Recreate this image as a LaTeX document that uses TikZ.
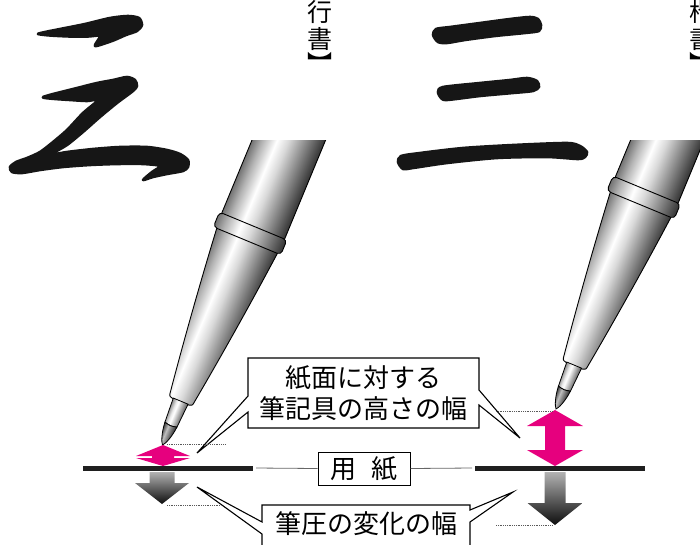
\documentclass[tikz,border=0pt]{standalone}
\usepackage{fontspec}
\newfontfamily\jpfont{Noto Sans CJK JP}
\usetikzlibrary{calc}

\definecolor{markpink}{RGB}{230,0,126}
\definecolor{inkblack}{RGB}{22,22,22}

% metallic gradients across the width of the pen parts
\pgfdeclarehorizontalshading{penmetal}{100bp}{color(0bp)=(black!55); color(25bp)=(black!55); color(32bp)=(black!30); color(42bp)=(white); color(50bp)=(black!15); color(75bp)=(black!80); color(100bp)=(black!80)}
\pgfdeclarehorizontalshading{sleevemetal}{100bp}{color(0bp)=(black!45); color(25bp)=(black!45); color(38bp)=(black!8); color(45bp)=(white); color(75bp)=(black!65); color(100bp)=(black!65)}
\pgfdeclarehorizontalshading{tipmetal}{100bp}{color(0bp)=(black!75); color(25bp)=(black!75); color(42bp)=(black!25); color(75bp)=(black!85); color(100bp)=(black!85)}

\tikzset{
  brush/.style={fill=inkblack, draw=inkblack, line width=2.6pt, line join=round},
  penline/.style={draw=black, line width=0.9pt},
  callout/.style={draw=black, line width=1.1pt, fill=white, line join=miter},
  labeltext/.style={font=\jpfont\fontsize{26}{31}\selectfont, inner sep=0pt},
  vlabel/.style={font=\jpfont\fontsize{25}{25}\selectfont, inner sep=0pt},
  paperline/.style={line width=5pt, draw=black!88},
  leader/.style={draw=black!60, line width=0.8pt},
  dotline/.style={draw=black!65, line width=0.6pt, dash pattern=on 0.8pt off 1pt},
  pinkarrow/.style={fill=markpink},
  pressarrow/.style={top color=black!30, bottom color=black!95},
}

% a pen in its own frame: tip at the origin, axis along +y
\newcommand\penshape{%
  \shade[shading=penmetal, penline] (-34,236) rectangle (34,430);
  \shade[shading=penmetal, penline] (-33,223) .. controls (-27,160) and (-19,95) .. (-13,52)
     .. controls (-12.5,48) .. (-9,47) -- (9,47) .. controls (12.5,48) .. (13,52)
     .. controls (19,95) and (27,160) .. (33,223) -- cycle;
  \shade[shading=penmetal, penline, rounded corners=4pt] (-36.5,221) rectangle (36.5,237);
  \shade[shading=sleevemetal, penline, line width=0.8pt] (-8,47.5) -- (-6.5,22)
     .. controls (0,20.5) .. (6.5,22) -- (8,47.5) -- cycle;
  \shade[shading=tipmetal, penline, line width=0.8pt] (-6.5,22) .. controls (-5.5,10) and (-2,2) .. (0,0)
     .. controls (2,2) and (5.5,10) .. (6.5,22) .. controls (0,20.5) .. (-6.5,22) -- cycle;
}

\begin{document}
\begin{tikzpicture}[x=1pt,y=-1pt]
\useasboundingbox (0,0) rectangle (700,544);

% --- semi-cursive "three"
\filldraw[brush] plot[smooth cycle, tension=0.45] coordinates {
  (38,34) (50,35.5) (70,36.5) (88,36.5) (100,36) (95,46) (112,41) (126,35) (137,31)
  (142,25) (139,18) (128,16) (110,18) (85,24) (60,29) (45,32)};
\filldraw[brush] plot[smooth cycle, tension=0.45] coordinates {
  (43,97) (53,94) (73,89) (97,83) (113,80) (127,77) (135,80) (137,86) (133,91)
  (117,103) (100,117) (83,132) (67,145) (53,153) (50,155) (67,152) (93,149) (120,147)
  (147,147) (167,150) (180,154) (188,160) (188,167) (183,171) (167,174) (153,177)
  (143,180) (152,172) (160,166) (143,164) (117,164) (90,165) (63,167) (40,170)
  (22,173) (12,172) (10,167) (16,162) (27,158) (40,152) (53,142) (67,130) (83,113)
  (98,100) (87,101) (70,100) (55,99) (45,98)};

% --- regular-script "three"
\filldraw[brush] plot[smooth cycle, tension=0.45] coordinates {
  (433,35) (436,29) (450,27) (480,23) (510,19) (530,17) (538,19) (541,25) (539,31)
  (525,33) (495,36) (465,40) (447,43) (438,42)};
\filldraw[brush] plot[smooth cycle, tension=0.45] coordinates {
  (438,92) (443,87) (480,83) (510,80) (527,78) (537,81) (539,87) (533,91) (513,93)
  (480,96) (447,100) (441,98)};
\filldraw[brush] plot[smooth cycle, tension=0.45] coordinates {
  (398,162) (401,156) (420,153) (463,148) (513,145) (567,143) (580,146) (587,152)
  (585,157) (578,159) (547,157) (497,158) (447,163) (413,168) (403,169)};

% --- vertical style labels
\node[vlabel] (gyo1) at (320,12) {行};
\node[vlabel] (gyo2) at (320,39) {書};
\node[vlabel, rotate=-90] (gyo3) at (320,63.5) {】};
\node[vlabel] (kai1) at (702,12) {楷};
\node[vlabel] (kai2) at (702,39) {書};
\node[vlabel, rotate=-90] (kai3) at (702,63.5) {】};

% --- the two pens
\begin{scope}
  \clip (0,140) rectangle (700,544);
  \begin{scope}[x=1pt,y=1pt,transform canvas={shift={(162.5pt,-445pt)},rotate=-22.5}]
    \penshape
  \end{scope}
  \begin{scope}[x=1pt,y=1pt,transform canvas={shift={(556pt,-409pt)},rotate=-22.5}]
    \penshape
  \end{scope}
\end{scope}

% --- callout: height of the pen above the paper
\coordinate (hgtTipL) at (197,453);
\coordinate (hgtTipR) at (520,438);
\draw[callout] (248,358) -- (479,358) -- (479,390) -- (hgtTipR) -- (479,405) -- (479,428)
  -- (248,428) -- (248,412) -- (hgtTipL) -- (248,396) -- cycle;
\node[labeltext, align=center] (heightlabel) at (363.5,393) {紙面に対する\\筆記具の高さの幅};

% --- callout: range of pen pressure
\coordinate (prsTipL) at (197,487);
\coordinate (prsTipR) at (513,492);
\draw[callout] (262,552) -- (262,534) -- (prsTipL) -- (262,522) -- (262,505) -- (470,505)
  -- (470,510) -- (prsTipR) -- (470,522) -- (470,552);
\node[labeltext] (pressurelabel) at (366,524) {筆圧の変化の幅};

% --- paper
\coordinate (pLa) at (83,468);
\coordinate (pLb) at (253,468);
\coordinate (pRa) at (475,468);
\coordinate (pRb) at (645,468);
\draw[paperline] (pLa) -- (pLb);
\draw[paperline] (pRa) -- (pRb);
\node[labeltext, draw=black, line width=1pt, minimum width=92pt, minimum height=33pt]
  (paper) at (364,468.5) {用\hspace{15pt}紙};
\coordinate (lkL) at (256,468);
\coordinate (lkR) at (472,468);
\draw[leader] (lkL) -- (paper.west);
\draw[leader] (paper.east) -- (lkR);

% --- height ranges (pink double arrows)
\fill[pinkarrow] (163,445) -- (190,456) -- (174,456) -- (174,458) -- (190,458) -- (163,466)
  -- (136,458) -- (152,458) -- (152,456) -- (136,456) -- cycle;
\fill[pinkarrow] (555,410) -- (583,426) -- (565,426) -- (565,450) -- (583,450) -- (555,466)
  -- (527,450) -- (545,450) -- (545,426) -- (527,426) -- cycle;

% --- pressure ranges (grey down arrows)
\shade[pressarrow] (149.5,472) -- (174.5,472) -- (174.5,483) -- (189,483) -- (162,504)
  -- (135,483) -- (149.5,483) -- cycle;
\shade[pressarrow] (544.5,472) -- (565.5,472) -- (565.5,503) -- (582.5,503) -- (555,525)
  -- (527.5,503) -- (544.5,503) -- cycle;

% --- dotted guide lines
\coordinate (dA1) at (167,444.5); \coordinate (dA2) at (226,444.5);
\coordinate (dB1) at (167,505);   \coordinate (dB2) at (221,505);
\coordinate (dC1) at (496,411);   \coordinate (dC2) at (552,411);
\coordinate (dD1) at (496,525);   \coordinate (dD2) at (552,525);
\draw[dotline] (dA1) -- (dA2);
\draw[dotline] (dB1) -- (dB2);
\draw[dotline] (dC1) -- (dC2);
\draw[dotline] (dD1) -- (dD2);
\end{tikzpicture}
\end{document}
